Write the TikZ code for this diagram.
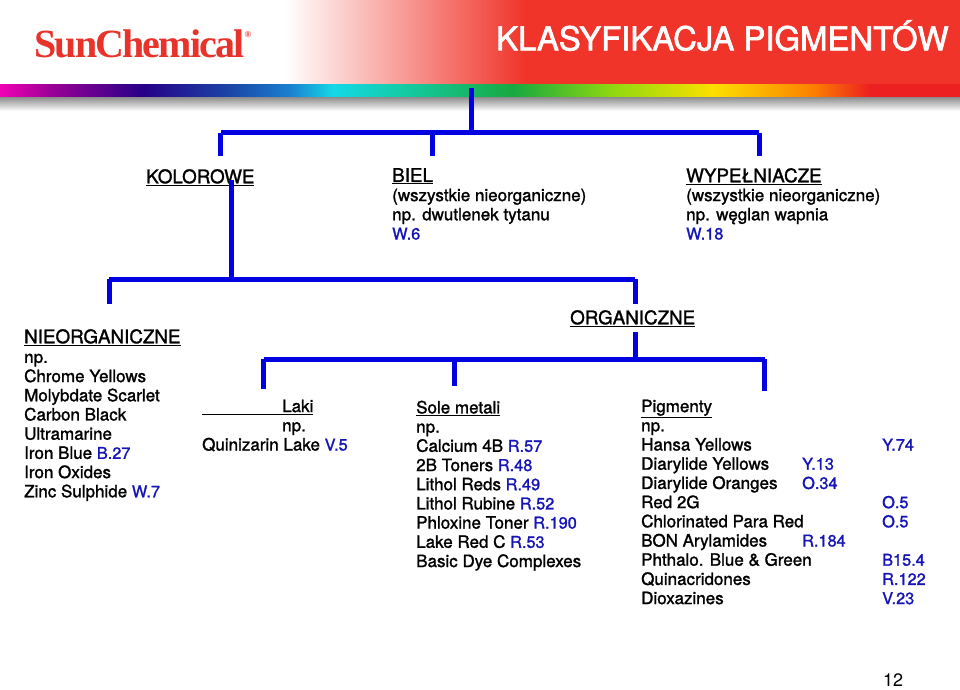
\documentclass[tikz,border=0pt]{standalone}
\usepackage{fontspec}
\usepackage{xcolor}
\setmainfont{TeX Gyre Heros}[FakeBold=1.4]
\newfontfamily\plainfont{TeX Gyre Heros}
\newfontfamily\titlefont{TeX Gyre Heros}[FakeBold=2]
\newfontfamily\logofont{Liberation Serif}[LetterSpace=-4.6]
\usetikzlibrary{calc}
\definecolor{treeblue}{HTML}{0000E0}
\definecolor{codeblue}{HTML}{1414B8}
\definecolor{bandred}{HTML}{F0342A}
\definecolor{logored}{HTML}{E8322A}
\definecolor{mag}{HTML}{F000B4}
\definecolor{vio}{HTML}{9C0096}
\definecolor{navy}{HTML}{260088}
\definecolor{royal}{HTML}{1A48A8}
\definecolor{azure}{HTML}{1A80D0}
\definecolor{aqua}{HTML}{14D8E8}
\definecolor{teal2}{HTML}{14CCA8}
\definecolor{grn}{HTML}{18A840}
\definecolor{lime2}{HTML}{90D810}
\definecolor{yel}{HTML}{FCE000}
\definecolor{org2}{HTML}{FC8000}
\definecolor{red2}{HTML}{EC2020}
\newcommand{\code}[1]{\textcolor{codeblue}{\fontsize{16.3}{19.2}\selectfont #1}}
\newcommand{\nearcode}[2]{\makebox[161pt][l]{#1}\code{#2}}
\newcommand{\farcode}[2]{\makebox[241pt][l]{#1}\code{#2}}
\tikzset{
    branch/.style={draw=treeblue, line width=5pt},
    small/.style={anchor=north west, inner sep=0pt, align=left, font=\fontsize{17}{19.2}\selectfont},
    big/.style={anchor=north west, inner sep=0pt, align=left, font=\fontsize{18.8}{19.2}\selectfont}
}
\begin{document}
\begin{tikzpicture}[x=1pt, y=-1pt]
        \useasboundingbox (0,0) rectangle (960,689);

        % header
        \fill[white] (0,0) rectangle (960,689);
        \shade[left color=white, right color=bandred] (285,0) rectangle (525,84);
        \fill[bandred] (525,0) rectangle (960,84);
        \foreach \xa/\xb/\ca/\cb in {
            0/50/mag/vio, 50/143/vio/navy, 143/233/navy/royal,
            233/290/royal/azure, 290/333/azure/aqua, 333/400/aqua/teal2,
            400/513/teal2/grn, 513/613/grn/lime2, 613/713/lime2/yel,
            713/813/yel/org2, 813/870/org2/red2, 870/960/red2/red2}
            \shade[left color=\ca, right color=\cb] (\xa,84) rectangle (\xb,97);
        \shade[top color=gray!90, bottom color=white] (0,97) rectangle (960,111);

        \draw (34,30) node[anchor=north west, inner sep=0pt, text=logored, font=\logofont\bfseries\fontsize{40}{40}\selectfont](logo){SunChemical\raisebox{20pt}{\fontsize{9}{9}\selectfont ®}};
        \draw (496,20) node[anchor=north west, inner sep=0pt, text=white, font=\titlefont\fontsize{32.9}{33}\selectfont](title){KLASYFIKACJA PIGMENTÓW};

        % first level
        \draw (146,169) node[big](kolorowe){\underline{KOLOROWE}};
        \draw (392,168) node[big](biel){\underline{BIEL}};
        \draw (392,188.5) node[small](bielnote){(wszystkie nieorganiczne)\\np. dwutlenek tytanu\\\code{W.6}};
        \draw (686,168) node[big](wypelniacze){\underline{WYPEŁNIACZE}};
        \draw (686,188.5) node[small](wypelnote){(wszystkie nieorganiczne)\\np. węglan wapnia\\\code{W.18}};

        % second level
        \draw (24,329) node[big](nieorg){\underline{NIEORGANICZNE}};
        \draw (24,353.5) node[small](nieorgnote){np.\\Chrome Yellows\\Molybdate Scarlet\\Carbon Black\\Ultramarine\\Iron Blue \code{B.27}\\Iron Oxides\\Zinc Sulphide \code{W.7}};
        \draw (570,310) node[big](org){\underline{ORGANICZNE}};

        % third level
        \draw (202,399.5) node[small](laki){\underline{\hspace{80pt}Laki}\\\hspace{80pt}np.\\Quinizarin Lake \code{V.5}};
        \draw (416,400.5) node[small](sole){\underline{Sole metali}\\np.\\Calcium 4B \code{R.57}\\2B Toners \code{R.48}\\Lithol Reds \code{R.49}\\Lithol Rubine \code{R.52}\\Phloxine Toner \code{R.190}\\Lake Red C \code{R.53}\\Basic Dye Complexes};
        \draw (641,399.5) node[small](pigmenty){\underline{Pigmenty}\\np.\\\farcode{Hansa Yellows}{Y.74}\\\nearcode{Diarylide Yellows}{Y.13}\\\nearcode{Diarylide Oranges}{O.34}\\\farcode{Red 2G}{O.5}\\\farcode{Chlorinated Para Red}{O.5}\\\nearcode{BON Arylamides}{R.184}\\\farcode{Phthalo. Blue \& Green}{B15.4}\\\farcode{Quinacridones}{R.122}\\\farcode{Dioxazines}{V.23}};

        \draw (883,674) node[anchor=north west, inner sep=0pt, font=\plainfont\fontsize{18}{18}\selectfont](pagenum){12};

        % tree
        \coordinate (rootin) at (471.5,88);
        \coordinate (rootj) at (471.5,132.5);
        \coordinate (kolup) at (220.8,132.5);
        \coordinate (kolend) at (220.8,156);
        \coordinate (bielup) at (432.5,132.5);
        \coordinate (bielend) at (432.5,156);
        \coordinate (wypup) at (759,132.5);
        \coordinate (wypend) at (759,156);
        \draw[branch] (rootin) -- (rootj);
        \draw[branch] (kolup) -- (wypup);
        \draw[branch] (kolup) -- (kolend);
        \draw[branch] (bielup) -- (bielend);
        \draw[branch] (wypup) -- (wypend);

        \coordinate (kolout) at (231.5,180);
        \coordinate (kolj) at (231.5,279);
        \coordinate (nieup) at (109,279);
        \coordinate (nieend) at (109,304);
        \coordinate (orgup) at (635,279);
        \coordinate (orgend) at (635,304);
        \draw[branch] (kolout) -- (kolj);
        \draw[branch] (nieup) -- (orgup);
        \draw[branch] (nieup) -- (nieend);
        \draw[branch] (orgup) -- (orgend);

        \coordinate (orgout) at (635.5,332);
        \coordinate (orgj) at (635.5,359);
        \coordinate (lakiup) at (263.5,359);
        \coordinate (lakiend) at (263.5,389);
        \coordinate (soleup) at (454,359);
        \coordinate (soleend) at (454,386);
        \coordinate (pigup) at (764.5,359);
        \coordinate (pigend) at (764.5,391);
        \draw[branch] (orgout) -- (orgj);
        \draw[branch] (lakiup) -- (pigup);
        \draw[branch] (lakiup) -- (lakiend);
        \draw[branch] (soleup) -- (soleend);
        \draw[branch] (pigup) -- (pigend);
    \end{tikzpicture}
\end{document}
